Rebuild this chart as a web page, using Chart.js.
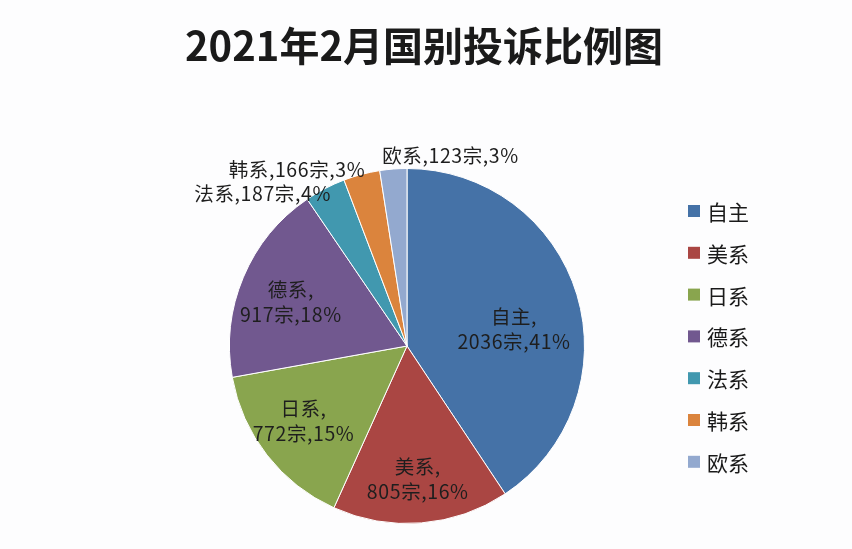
<!DOCTYPE html>
<html>
<head>
<meta charset="utf-8">
<script src="https://cdn.jsdelivr.net/npm/chart.js@4"></script>
<style>
  html, body { margin: 0; padding: 0; background: #fdfdfe; }
  #wrap { width: 852px; height: 549px; position: relative; }
</style>
</head>
<body>
<div id="wrap"><canvas id="pieChart" width="852" height="549"></canvas></div>
<script>
const titleText = '2021年2月国别投诉比例图';
const categories = ['自主', '美系', '日系', '德系', '法系', '韩系', '欧系'];
const counts = [2036, 805, 772, 917, 187, 166, 123];
const percents = [41, 16, 15, 18, 4, 3, 3];
const colors = ['#4572A7', '#AA4643', '#89A54E', '#71588F', '#4198AF', '#DB843D', '#93A9CF'];

// label placement per slice: radius factor, angle offset (deg), inside/outside
const labelStyle = [
    { r: 0.61, a: 8,  inside: true },
    { r: 0.75, a: 0,  inside: true },
    { r: 0.72, a: 2,  inside: true },
    { r: 0.70, a: -2, inside: true },
    { r: 0.96, a: 1,  inside: false, align: 'right' },
    { r: 1.02, a: 1.5, inside: false, align: 'right' },
    { r: 1.08, a: -3, inside: false, align: 'left' }
];

const FONT = '"Noto Sans CJK SC", "Noto Sans", sans-serif';

const drawExtras = {
    id: 'drawExtras',
    afterDraw(chart) {
        const ctx = chart.ctx;
        ctx.save();

        // title
        ctx.fillStyle = '#1a1a1a';
        ctx.font = 'bold 40px ' + FONT;
        ctx.textAlign = 'center';
        ctx.textBaseline = 'middle';
        ctx.fillText(titleText, 424, 46);

        // legend
        ctx.font = '21px ' + FONT;
        ctx.textAlign = 'left';
        chart.data.labels.forEach((lab, i) => {
            const y = 211 + i * 41.8;
            ctx.fillStyle = colors[i];
            ctx.fillRect(688, y - 6, 12, 12);
            ctx.fillStyle = '#1a1a1a';
            ctx.fillText(lab, 707, y + 1);
        });

        // data labels
        const meta = chart.getDatasetMeta(0);
        ctx.font = '19.5px ' + FONT;
        ctx.letterSpacing = '0.6px';
        ctx.fillStyle = '#1e1e1e';
        meta.data.forEach((arc, i) => {
            const st = labelStyle[i];
            const mid = (arc.startAngle + arc.endAngle) / 2 + st.a * Math.PI / 180;
            const rr = arc.outerRadius * st.r;
            const x = arc.x + Math.cos(mid) * rr;
            const y = arc.y + Math.sin(mid) * rr;
            const name = chart.data.labels[i];
            const val = counts[i] + '宗,' + percents[i] + '%';
            if (st.inside) {
                ctx.textAlign = 'center';
                ctx.fillText(name + ',', x, y - 12.5);
                ctx.fillText(val, x, y + 12.5);
            } else {
                ctx.textAlign = st.align;
                ctx.fillText(name + ',' + val, x, y);
            }
        });
        ctx.restore();
    }
};

new Chart(document.getElementById('pieChart'), {
    type: 'pie',
    data: {
        labels: categories,
        datasets: [{
            data: counts,
            backgroundColor: colors,
            borderColor: '#ffffff',
            borderWidth: 1
        }]
    },
    options: {
        responsive: false,
        animation: false,
        layout: { padding: { left: 229, right: 267, top: 168, bottom: 25 } },
        plugins: {
            legend: { display: false },
            title: { display: false },
            tooltip: { enabled: false }
        }
    },
    plugins: [drawExtras]
});
</script>
</body>
</html>
